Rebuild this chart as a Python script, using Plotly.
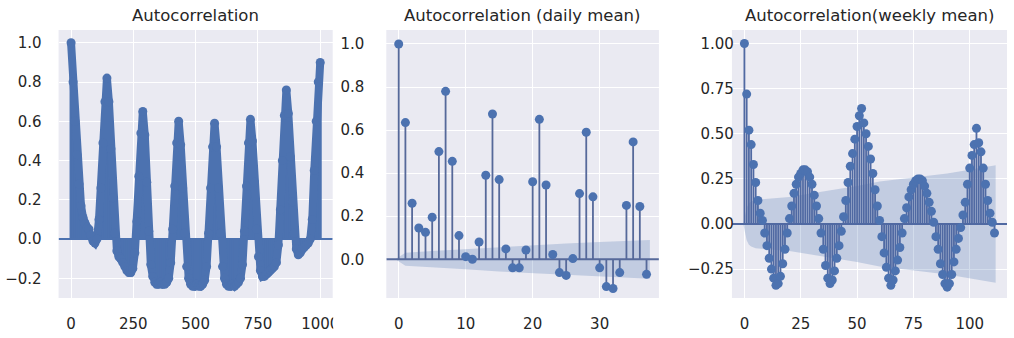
import plotly.graph_objects as go

# ---------------- data ----------------
# Panel 1: autocorrelation of the raw series (read every 8 lags)
raw_lags = list(range(0, 1001, 8))
raw_acf = [
    1.00, 0.80, 0.60, 0.43, 0.28, 0.17, 0.11, 0.08, 0.06, 0.05, 0.02, -0.01, -0.02, 0.00, 0.10, 0.26, 0.49, 0.70,
    0.82, 0.70, 0.46, 0.21, 0.03, -0.06, -0.09, -0.10, -0.12, -0.14, -0.16, -0.17, -0.17, -0.15, -0.07, 0.09, 0.32, 0.54,
    0.65, 0.53, 0.29, 0.04, -0.13, -0.19, -0.22, -0.23, -0.23, -0.22, -0.23, -0.23, -0.22, -0.20, -0.12, 0.05, 0.27, 0.49,
    0.60, 0.48, 0.26, 0.03, -0.14, -0.20, -0.23, -0.24, -0.24, -0.23, -0.24, -0.24, -0.23, -0.21, -0.14, 0.03, 0.26, 0.47,
    0.59, 0.47, 0.26, 0.03, -0.14, -0.20, -0.23, -0.24, -0.24, -0.23, -0.24, -0.23, -0.22, -0.20, -0.13, 0.04, 0.27, 0.49,
    0.61, 0.50, 0.29, 0.05, -0.09, -0.16, -0.19, -0.19, -0.18, -0.17, -0.16, -0.15, -0.14, -0.12, -0.03, 0.15, 0.40, 0.63,
    0.76, 0.64, 0.42, 0.19, 0.03, -0.05, -0.08, -0.07, -0.05, -0.04, -0.03, -0.02, 0.00, 0.10, 0.35, 0.60, 0.80, 0.90,
]

# Panel 2: autocorrelation of daily mean
daily_lags = list(range(0, 38))
daily_acf = [
    1.0, 0.635, 0.26, 0.145, 0.125, 0.195, 0.50, 0.78, 0.455, 0.11,
    0.012, 0.0, 0.08, 0.39, 0.675, 0.37, 0.048, -0.04, -0.04, 0.043,
    0.36, 0.65, 0.345, 0.022, -0.062, -0.075, 0.003, 0.305, 0.59, 0.29,
    -0.04, -0.127, -0.136, -0.062, 0.25, 0.545, 0.245, -0.07,
]
daily_band_lags = [-0.5, 1, 5, 10, 15, 20, 25, 30, 37.5]
daily_band_half = [0.0, 0.03, 0.038, 0.047, 0.057, 0.066, 0.073, 0.080, 0.090]

# Panel 3: autocorrelation of weekly mean
weekly_lags = list(range(0, 112))
weekly_acf = [
    1.00, 0.72, 0.52, 0.44, 0.33, 0.23, 0.13, 0.06, 0.02, -0.05,
    -0.12, -0.19, -0.25, -0.30, -0.34, -0.33, -0.29, -0.22, -0.14, -0.05,
    0.03, 0.10, 0.17, 0.22, 0.26, 0.28, 0.30, 0.30, 0.29, 0.26,
    0.22, 0.16, 0.10, 0.03, -0.05, -0.14, -0.23, -0.30, -0.33, -0.31,
    -0.26, -0.19, -0.12, -0.04, 0.04, 0.13, 0.23, 0.32, 0.39, 0.47,
    0.54, 0.60, 0.64, 0.56, 0.50, 0.43, 0.36, 0.28, 0.19, 0.10,
    0.02, -0.07, -0.16, -0.24, -0.30, -0.34, -0.31, -0.26, -0.20, -0.13,
    -0.05, 0.03, 0.09, 0.15, 0.19, 0.22, 0.24, 0.25, 0.25, 0.24,
    0.21, 0.17, 0.12, 0.07, 0.01, -0.07, -0.14, -0.22, -0.28, -0.33,
    -0.35, -0.33, -0.28, -0.21, -0.14, -0.08, -0.02, 0.05, 0.12, 0.22,
    0.31, 0.38, 0.44, 0.53, 0.45, 0.40, 0.31, 0.22, 0.13, 0.06,
    0.01, -0.05,
]
weekly_band_lags = [-0.5, 1, 2, 3, 5, 10, 20, 30, 40, 50, 60, 70, 80, 90, 100, 111.5]
weekly_band_half = [0.0, 0.09, 0.115, 0.125, 0.135, 0.14, 0.15, 0.17, 0.19, 0.21, 0.235, 0.25, 0.265, 0.28, 0.30, 0.325]

titles = ["Autocorrelation", "Autocorrelation (daily mean)", "Autocorrelation(weekly mean)"]
x_ticks = [[0, 250, 500, 750, 1000], [0, 10, 20, 30], [0, 25, 50, 75, 100]]
y_ticks = [[-0.2, 0.0, 0.2, 0.4, 0.6, 0.8, 1.0],
           [0.0, 0.2, 0.4, 0.6, 0.8, 1.0],
           [-0.25, 0.0, 0.25, 0.5, 0.75, 1.0]]
y_ticktext = [["\u22120.2", "0.0", "0.2", "0.4", "0.6", "0.8", "1.0"],
              ["0.0", "0.2", "0.4", "0.6", "0.8", "1.0"],
              ["\u22120.25", "0.00", "0.25", "0.50", "0.75", "1.00"]]
x_ranges = [[-50, 1050], [-1.85, 38.85], [-5.55, 116.55]]
y_ranges = [[-0.30, 1.065], [-0.18, 1.065], [-0.41, 1.075]]

# ---------------- style ----------------
W, H = 1014, 338
C0 = "#4C72B0"
STEM = ["#4C72B0", "#56699a", "#5069a2"]
BAND = "rgba(76,114,176,0.25)"
BG = "#EAEAF2"
TXT = "#262626"
FONT = "DejaVu Sans"
domains_px = [(59, 335), (389, 663.5), (737, 1014)]
ystandoff = [16, 21, -3]

fig = go.Figure()


def stem_xy(xs, ys):
    sx, sy = [], []
    for a, b in zip(xs, ys):
        sx += [a, a, None]
        sy += [0, b, None]
    return sx, sy


panels = [
    (raw_lags, raw_acf, None, None),
    (daily_lags, daily_acf, daily_band_lags, daily_band_half),
    (weekly_lags, weekly_acf, weekly_band_lags, weekly_band_half),
]

for i, (lx, vy, bl, bh) in enumerate(panels):
    xa = "x" if i == 0 else f"x{i + 1}"
    ya = "y" if i == 0 else f"y{i + 1}"
    if bl is not None:
        fig.add_trace(go.Scatter(
            x=bl + bl[::-1], y=bh + [-v for v in bh[::-1]],
            fill="toself", fillcolor=BAND, line=dict(width=0), mode="lines",
            hoverinfo="skip", showlegend=False, xaxis=xa, yaxis=ya))
    sx, sy = stem_xy(lx, vy)
    fig.add_trace(go.Scatter(
        x=sx, y=sy, mode="lines", line=dict(color=STEM[i], width=3 if i == 0 else 1.8),
        hoverinfo="skip", showlegend=False, xaxis=xa, yaxis=ya))
    fig.add_trace(go.Scatter(
        x=x_ranges[i], y=[0, 0], mode="lines", line=dict(color=STEM[i], width=2),
        hoverinfo="skip", showlegend=False, xaxis=xa, yaxis=ya))
    if i == 0:
        # the dense markers of the raw ACF merge into a thick continuous outline
        fig.add_trace(go.Scatter(
            x=lx, y=vy, mode="lines+markers",
            line=dict(color=C0, width=8, shape="linear"),
            marker=dict(color=C0, size=9, line=dict(width=0)),
            showlegend=False, xaxis=xa, yaxis=ya))
    else:
        fig.add_trace(go.Scatter(
            x=lx, y=vy, mode="markers", marker=dict(color=C0, size=9, line=dict(width=0)),
            showlegend=False, xaxis=xa, yaxis=ya))

layout = dict(
    width=W, height=H,
    margin=dict(l=0, r=0, t=30, b=40),
    paper_bgcolor="white",
    plot_bgcolor=BG,
    font=dict(family=FONT, color=TXT, size=15),
    showlegend=False,
)
annotations = []
for i in range(3):
    key = "" if i == 0 else str(i + 1)
    d0, d1 = domains_px[i]
    layout["xaxis" + key] = dict(
        domain=[d0 / W, d1 / W], range=x_ranges[i], tickvals=x_ticks[i],
        showgrid=True, gridcolor="white", gridwidth=1.3, zeroline=False,
        showline=False, ticks="", ticklabelstandoff=15,
        tickfont=dict(family=FONT, size=15, color=TXT),
        anchor="y" + ("" if i == 0 else str(i + 1)), fixedrange=True,
    )
    layout["yaxis" + key] = dict(
        domain=[0, 1], range=y_ranges[i], tickvals=y_ticks[i], ticktext=y_ticktext[i],
        showgrid=True, gridcolor="white", gridwidth=1.3, zeroline=False,
        showline=False, ticks="", ticklabelstandoff=ystandoff[i],
        tickfont=dict(family=FONT, size=15, color=TXT),
        anchor="x" + ("" if i == 0 else str(i + 1)), fixedrange=True,
    )
    annotations.append(dict(
        text=titles[i], xref="paper", yref="paper",
        x=(d0 + d1) / 2 / W, y=1 + 14 / 268, xanchor="center", yanchor="middle",
        showarrow=False, font=dict(family=FONT, size=16.5, color=TXT)))
layout["annotations"] = annotations

# the reference's last x tick label of the first panel is clipped at the panel edge
layout["shapes"] = [dict(
    type="rect", xref="paper", yref="paper", layer="above",
    x0=335.5 / W, x1=345 / W, y0=-40 / 268, y1=-10 / 268,
    fillcolor="white", line=dict(width=0))]
fig.update_layout(**layout)

fig.write_html("out.html")
